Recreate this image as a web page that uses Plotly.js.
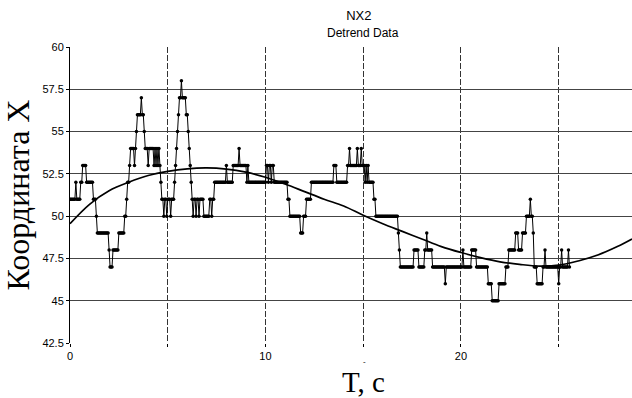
<!DOCTYPE html>
<html>
<head>
<meta charset="utf-8">
<script src="https://cdn.plot.ly/plotly-3.0.1.min.js"></script>
<style>html,body{margin:0;padding:0;background:#fff;}#chart{width:632px;height:398px;}</style>
</head>
<body>
<div id="chart"></div>
<script>
// Sampled signal, one value every 0.05 s starting at t = 0 (one row per second)
const sampleStep = 0.05;
const signalValues = [
  51,51,51,51,51,51,52,51,51,51,51,52,52,53,53,53,53,52,52,52,
  52,52,52,52,51,51,51,50,49,49,49,49,49,49,49,49,49,49,49,49,
  48,47,47,47,48,48,48,48,48,48,49,49,49,49,49,49,50,50,51,52,
  52,53,54,54,54,54,53,54,55,56,56,56,56,57,56,56,55,54,54,54,
  53,54,54,54,54,54,53,54,53,54,53,54,53,52,51,51,50,51,51,50,
  51,51,51,50,51,51,51,52,53,54,55,56,57,57,58,57,57,57,57,56,
  56,55,54,53,52,51,50,51,51,50,51,51,50,51,51,51,51,50,50,50,
  50,50,50,51,51,50,51,51,52,52,52,52,52,52,52,52,52,52,52,52,
  53,52,52,52,52,52,52,53,53,53,53,53,53,54,53,53,53,53,53,53,
  53,52,53,52,52,52,52,52,52,52,52,52,52,52,52,52,52,52,52,52,
  52,53,53,52,53,53,52,53,53,52,52,52,52,52,52,52,52,52,52,52,
  52,52,52,51,51,50,50,50,50,50,50,50,50,50,50,50,49,49,49,50,
  50,50,51,51,51,51,51,52,52,52,52,52,52,52,52,52,52,52,52,52,
  52,52,52,52,52,52,52,52,52,52,53,53,53,52,52,52,52,52,52,52,
  52,52,52,52,53,53,54,53,53,53,53,53,53,53,54,53,53,53,54,53,
  53,53,52,53,52,53,52,52,52,52,52,51,51,50,50,50,50,50,50,50,
  50,50,50,50,50,50,50,50,50,50,50,50,50,50,50,50,49,48,47,47,
  47,47,47,47,47,47,47,47,47,47,47,47,48,48,48,48,48,47,47,47,
  47,47,47,48,48,49,48,48,48,48,48,47,47,47,47,47,47,47,47,47,
  47,47,47,47,46,47,47,47,47,47,47,47,47,47,47,47,47,47,47,47,
  47,47,48,47,47,47,47,47,47,47,47,48,48,48,48,48,47,47,47,47,
  47,47,47,47,47,47,47,47,46,46,46,46,45,45,45,45,45,45,45,46,
  46,46,46,46,46,46,47,47,47,48,48,48,48,48,48,48,49,49,49,48,
  48,48,48,49,49,49,49,50,50,50,50,51,50,50,49,47,47,47,46,46,
  46,46,46,46,47,47,48,47,47,47,47,47,47,47,47,47,47,47,47,47,
  46,47,47,48,47,47,47,47,47,47,48,47
];

// Smooth trend curve
const trendT = [0,1,2,3,4,5,6,7,8,9,10,11,12,13,14,15,16,17,18,19,20,21,22,23,24,25,26,27,28,28.75];
const trendV = [49.55,50.7,51.5,52.0,52.4,52.65,52.8,52.85,52.78,52.6,52.3,51.9,51.45,51.0,50.6,50.05,49.55,49.1,48.65,48.2,47.85,47.55,47.3,47.15,47.05,47.1,47.35,47.7,48.2,48.65];

// Axis ticks
const xTickVals = [0,5,10,15,20,25];
const xTickText = ['0','','10','','20',''];
const yTickVals = [42.5,45,47.5,50,52.5,55,57.5,60];
const yTickText = ['42.5','45','47.5','50','52.5','55','57.5','60'];

const sans = 'Liberation Sans, Arial, sans-serif';
const serif = 'Liberation Serif, Times New Roman, serif';

const traces = [
  {
    type: 'scatter', mode: 'lines+markers',
    y: signalValues, x0: 0, dx: sampleStep,
    line: {color: '#000', width: 1},
    marker: {color: '#000', size: 3.5},
    hoverinfo: 'skip', showlegend: false
  },
  {
    type: 'scatter', mode: 'lines',
    x: trendT, y: trendV,
    line: {color: '#000', width: 1.7, shape: 'spline', smoothing: 1},
    hoverinfo: 'skip', showlegend: false
  }
];

const layout = {
  width: 632, height: 398,
  margin: {l: 70, r: 0, t: 47, b: 55, pad: 0},
  paper_bgcolor: '#fff', plot_bgcolor: '#fff',
  showlegend: false,
  title: {
    text: 'NX2',
    font: {family: sans, size: 13, color: '#000'},
    x: 0.514, xref: 'paper', xanchor: 'center',
    y: 0.972, yref: 'container', yanchor: 'top'
  },
  xaxis: {
    range: [0, 28.75],
    tickvals: xTickVals, ticktext: xTickText,
    ticks: 'outside', ticklen: 3, tickcolor: '#000', tickwidth: 1,
    showgrid: true, gridcolor: '#333', gridwidth: 1, griddash: '6px,2px',
    showline: false, zeroline: false,
    tickfont: {family: sans, size: 11, color: '#000'},
    fixedrange: true
  },
  yaxis: {
    range: [42.5, 60],
    tickvals: yTickVals, ticktext: yTickText,
    ticks: 'outside', ticklen: 3, tickcolor: '#000', tickwidth: 1,
    showgrid: true, gridcolor: '#444', gridwidth: 1,
    showline: true, linecolor: '#000', linewidth: 1,
    zeroline: false,
    tickfont: {family: sans, size: 11, color: '#000'},
    title: {text: 'Координата X', font: {family: serif, size: 32, color: '#000'}, standoff: 4},
    fixedrange: true
  },
  annotations: [
    {
      text: 'Detrend Data', xref: 'paper', yref: 'paper',
      x: 0.522, y: 1.047, xanchor: 'center', yanchor: 'middle',
      showarrow: false, font: {family: sans, size: 12, color: '#000'}
    },
    {
      text: 'T, с', xref: 'paper', yref: 'paper',
      x: 0.522, y: -0.132, xanchor: 'center', yanchor: 'middle',
      showarrow: false, font: {family: serif, size: 29, color: '#000'}
    },
    {
      text: '-', xref: 'paper', yref: 'paper',
      x: 0.5235, y: -0.062, xanchor: 'center', yanchor: 'middle',
      showarrow: false, font: {family: sans, size: 8, color: '#000'}
    }
  ]
};

Plotly.newPlot('chart', traces, layout, {displayModeBar: false, staticPlot: true});
</script>
</body>
</html>
